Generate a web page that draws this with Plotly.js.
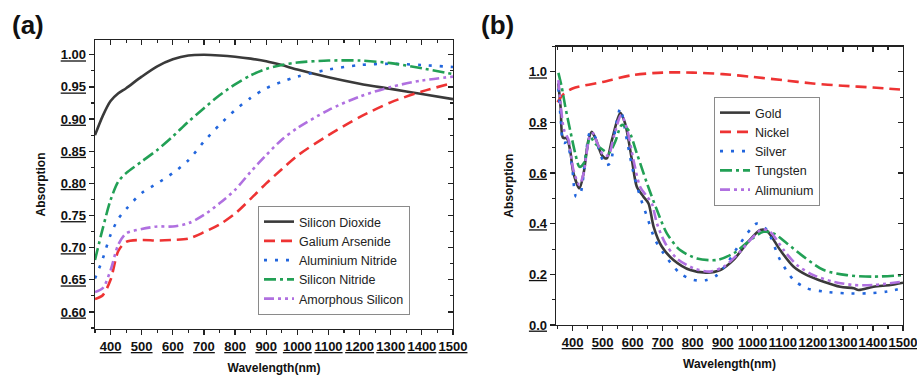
<!DOCTYPE html>
<html>
<head>
<meta charset="utf-8">
<script src="https://cdn.plot.ly/plotly-3.0.1.min.js"></script>
<style>html,body{margin:0;padding:0;background:#fff;}#chart{width:917px;height:375px;}</style>
</head>
<body>
<div id="chart"></div>
<script>
// ---------- Panel (a) data ----------
const wavelengthA = [350,375,400,425,450,500,550,600,650,700,750,800,850,900,950,1000,1100,1200,1300,1400,1500];
const siliconDioxide   = [0.875,0.905,0.928,0.940,0.948,0.966,0.982,0.993,0.999,1.000,0.999,0.997,0.994,0.990,0.984,0.977,0.965,0.955,0.947,0.939,0.931];
const galiumArsenide   = [0.620,0.626,0.650,0.695,0.709,0.712,0.711,0.712,0.714,0.724,0.736,0.753,0.776,0.800,0.822,0.843,0.875,0.903,0.926,0.943,0.956];
const aluminiumNitride = [0.652,0.683,0.720,0.745,0.760,0.785,0.800,0.816,0.836,0.865,0.891,0.914,0.933,0.948,0.958,0.966,0.977,0.984,0.986,0.984,0.981];
const siliconNitride   = [0.681,0.730,0.774,0.803,0.816,0.834,0.852,0.873,0.896,0.917,0.937,0.954,0.968,0.978,0.984,0.988,0.991,0.991,0.987,0.979,0.970];
const amorphousSilicon = [0.631,0.637,0.665,0.705,0.722,0.729,0.733,0.733,0.738,0.751,0.769,0.790,0.818,0.844,0.868,0.886,0.914,0.935,0.950,0.960,0.966];

// ---------- Panel (b) data ----------
const wlGold = [353,361,368,381,392,403,423,437,453,464,479,498,514,531,559,575,598,614,636,653,670,697,736,792,847,892,936,980,1025,1047,1091,1136,1180,1236,1291,1336,1352,1402,1458,1500];
const gold   = [0.954,0.85,0.74,0.737,0.69,0.60,0.54,0.60,0.73,0.763,0.73,0.67,0.658,0.73,0.838,0.796,0.65,0.546,0.507,0.48,0.388,0.31,0.257,0.217,0.207,0.217,0.257,0.322,0.375,0.372,0.296,0.23,0.197,0.171,0.151,0.145,0.138,0.151,0.158,0.167];
const wlNickel = [350,370,400,500,600,700,800,900,1000,1100,1200,1300,1400,1490];
const nickel   = [0.88,0.912,0.934,0.96,0.987,0.997,0.997,0.991,0.98,0.967,0.954,0.945,0.938,0.93];
const wlSilver = [353,361,370,381,398,412,426,442,459,475,492,509,525,542,559,581,603,625,648,675,703,758,803,847,881,914,958,1014,1047,1091,1136,1180,1236,1313,1380,1447,1497];
const silver   = [0.934,0.81,0.72,0.72,0.63,0.507,0.52,0.65,0.763,0.743,0.678,0.632,0.638,0.77,0.855,0.73,0.60,0.507,0.428,0.336,0.283,0.204,0.178,0.178,0.197,0.243,0.322,0.401,0.375,0.257,0.178,0.145,0.132,0.125,0.125,0.132,0.145];
const wlTungsten = [353,364,376,392,409,423,437,459,475,503,520,542,564,586,614,648,681,714,758,814,881,936,992,1036,1069,1114,1169,1236,1313,1402,1497];
const tungsten   = [0.996,0.94,0.862,0.77,0.678,0.625,0.638,0.743,0.717,0.69,0.678,0.724,0.79,0.77,0.678,0.559,0.454,0.362,0.296,0.263,0.257,0.283,0.336,0.368,0.362,0.322,0.27,0.217,0.197,0.191,0.197];
const wlAlimunium = [353,361,372,387,403,423,437,457,468,483,503,520,537,562,581,603,625,648,664,681,709,747,803,858,903,947,992,1030,1058,1103,1147,1202,1269,1336,1402,1497];
const alimunium   = [0.967,0.862,0.77,0.73,0.612,0.553,0.60,0.743,0.757,0.717,0.671,0.671,0.743,0.829,0.776,0.651,0.546,0.507,0.48,0.401,0.322,0.263,0.224,0.211,0.23,0.276,0.336,0.378,0.368,0.296,0.237,0.197,0.171,0.158,0.158,0.171];

// ---------- Tick labels ----------
const xTickVals = [400,500,600,700,800,900,1000,1100,1200,1300,1400,1500];
const xTickText = ['400','500','600','700','800','900','1000','1100','1200','1300','1400','1500'];
const yTickValsA = [0.60,0.65,0.70,0.75,0.80,0.85,0.90,0.95,1.00];
const yTickTextA = ['0.60','0.65','0.70','0.75','0.80','0.85','0.90','0.95','1.00'];
const yTickValsB = [0.0,0.2,0.4,0.6,0.8,1.0];
const yTickTextB = ['0.0','0.2','0.4','0.6','0.8','1.0'];

const C = {black:'#3a3a3a', red:'#EE3333', blue:'#2266DD', green:'#22A055', purple:'#B070E0'};
const D = {solid:'solid', dash:'11px,6px', dot:'3px,8px', dashdot:'12px,4px,3px,4px', dashdotdot:'10px,4px,3px,4px,3px,4px'};
const LW = 2.6;

function tr(x, y, name, color, dash, xa, ya, leg){
  return {x:x, y:y, name:name, type:'scatter', mode:'lines',
    line:{color:color, dash:dash, width:LW, shape:'spline', smoothing:0.8},
    xaxis:xa, yaxis:ya, legend:leg, hoverinfo:'skip'};
}
// empty carriers so the mirrored frame axes (top / right) get drawn
function frame(xa, ya){
  return {x:[], y:[], type:'scatter', mode:'lines', xaxis:xa, yaxis:ya, showlegend:false, hoverinfo:'skip'};
}

const data = [
  tr(wavelengthA, siliconDioxide, 'Silicon Dioxide', C.black, D.solid, 'x', 'y', 'legend'),
  tr(wavelengthA, galiumArsenide, 'Galium Arsenide', C.red, D.dash, 'x', 'y', 'legend'),
  tr(wavelengthA, aluminiumNitride, 'Aluminium Nitride', C.blue, D.dot, 'x', 'y', 'legend'),
  tr(wavelengthA, siliconNitride, 'Silicon Nitride', C.green, D.dashdot, 'x', 'y', 'legend'),
  tr(wavelengthA, amorphousSilicon, 'Amorphous Silicon', C.purple, D.dashdotdot, 'x', 'y', 'legend'),
  tr(wlGold, gold, 'Gold', C.black, D.solid, 'x2', 'y2', 'legend2'),
  tr(wlNickel, nickel, 'Nickel', C.red, D.dash, 'x2', 'y2', 'legend2'),
  tr(wlSilver, silver, 'Silver', C.blue, D.dot, 'x2', 'y2', 'legend2'),
  tr(wlTungsten, tungsten, 'Tungsten', C.green, D.dashdot, 'x2', 'y2', 'legend2'),
  tr(wlAlimunium, alimunium, 'Alimunium', C.purple, D.dashdotdot, 'x2', 'y2', 'legend2'),
  frame('x3', 'y'), frame('x', 'y3'), frame('x4', 'y2'), frame('x2', 'y4')
];

const FONT = 'Arial, "Liberation Sans", sans-serif';
const tickFont = {family:FONT, size:13, color:'#111', weight:'bold', lineposition:'under'};
const titleFont = {family:FONT, size:12, color:'#111', weight:'bold'};
const LINEC = '#222';

function xMain(domain, range, anchor){
  return {domain:domain, range:range, anchor:anchor, tickmode:'array', tickvals:xTickVals, ticktext:xTickText,
    tickangle:0, ticklabeloverflow:'allow', ticks:'outside', ticklen:5, tickwidth:1.2, tickcolor:LINEC,
    showline:true, linecolor:LINEC, linewidth:1.4,
    showgrid:false, zeroline:false, tickfont:tickFont,
    minor:{ticks:'outside', ticklen:3, tickwidth:1.1, tickcolor:LINEC, dtick:50, tick0:350, showgrid:false},
    title:{text:'Wavelength(nm)', font:titleFont, standoff:10}};
}
function yMain(domain, range, anchor, vals, text, mdt, mt0){
  return {domain:domain, range:range, anchor:anchor, tickmode:'array', tickvals:vals, ticktext:text,
    ticklabeloverflow:'allow', ticks:'outside', ticklen:5, tickwidth:1.2, tickcolor:LINEC,
    showline:true, linecolor:LINEC, linewidth:1.4,
    showgrid:false, zeroline:false, tickfont:tickFont,
    minor:{ticks:'outside', ticklen:3, tickwidth:1.1, tickcolor:LINEC, dtick:mdt, tick0:mt0, showgrid:false},
    title:{text:'Absorption', font:titleFont, standoff:12}};
}
function xTop(over, range, anchor){
  return {overlaying:over, side:'top', anchor:anchor, range:range, tickmode:'array', tickvals:xTickVals,
    showticklabels:false, ticks:'inside', ticklen:5, tickwidth:1.2, tickcolor:LINEC, showline:true, linecolor:LINEC, linewidth:1.4,
    showgrid:false, zeroline:false,
    minor:{ticks:'inside', ticklen:3, tickwidth:1.1, tickcolor:LINEC, dtick:50, tick0:350, showgrid:false}};
}
function yRight(over, range, anchor, vals, mdt, mt0){
  return {overlaying:over, side:'right', anchor:anchor, range:range, tickmode:'array', tickvals:vals,
    showticklabels:false, ticks:'inside', ticklen:5, tickwidth:1.2, tickcolor:LINEC, showline:true, linecolor:LINEC, linewidth:1.4,
    showgrid:false, zeroline:false,
    minor:{ticks:'inside', ticklen:3, tickwidth:1.1, tickcolor:LINEC, dtick:mdt, tick0:mt0, showgrid:false}};
}

const W = 917, H = 375;
const domXA = [95/W, 453/W], domYA = [(H-329)/H, (H-40)/H];
const domXB = [556/W, 903/W], domYB = [(H-325)/H, (H-46.5)/H];
const rangeXA = [350, 1500], rangeYA = [0.5735, 1.023];
const rangeXB = [345, 1500], rangeYB = [0, 1.1];

const legendStyle = {bgcolor:'#fff', bordercolor:'#8a8a8a', borderwidth:1,
  font:{family:FONT, size:12.5, color:'#222'}, xanchor:'left', yanchor:'top', tracegroupgap:0, itemwidth:30};

const layout = {
  width:W, height:H, margin:{l:0, r:0, t:0, b:0}, paper_bgcolor:'#fff', plot_bgcolor:'#fff',
  xaxis: xMain(domXA, rangeXA, 'y'),
  yaxis: yMain(domYA, rangeYA, 'x', yTickValsA, yTickTextA, 0.025, 0.6),
  xaxis2: xMain(domXB, rangeXB, 'y2'),
  yaxis2: yMain(domYB, rangeYB, 'x2', yTickValsB, yTickTextB, 0.1, 0),
  xaxis3: xTop('x', rangeXA, 'y'),
  yaxis3: yRight('y', rangeYA, 'x', yTickValsA, 0.025, 0.6),
  xaxis4: xTop('x2', rangeXB, 'y2'),
  yaxis4: yRight('y2', rangeYB, 'x2', yTickValsB, 0.1, 0),
  legend: Object.assign({}, legendStyle, {x:258/W, y:1-206/H}),
  legend2: Object.assign({}, legendStyle, {x:714/W, y:1-97/H}),
  showlegend:true,
  annotations:[
    {text:'<b>(a)</b>', x:10/W, y:1-8/H, xref:'paper', yref:'paper', xanchor:'left', yanchor:'top', showarrow:false,
     font:{family:FONT, size:26, color:'#111'}},
    {text:'<b>(b)</b>', x:479/W, y:1-8/H, xref:'paper', yref:'paper', xanchor:'left', yanchor:'top', showarrow:false,
     font:{family:FONT, size:26, color:'#111'}}
  ]
};

Plotly.newPlot('chart', data, layout, {staticPlot:true, displayModeBar:false});
</script>
</body>
</html>
